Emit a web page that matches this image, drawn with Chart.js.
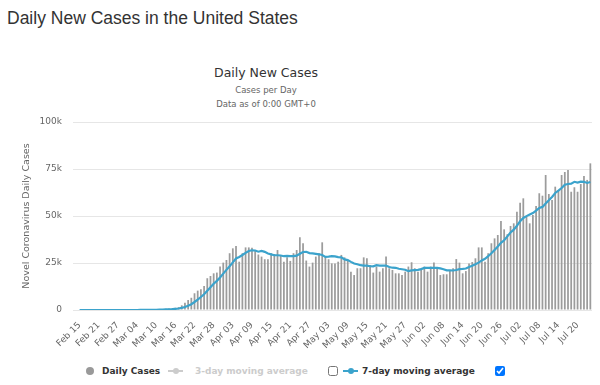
<!DOCTYPE html>
<html>
<head>
<meta charset="utf-8">
<title>Daily New Cases in the United States</title>
<script src="https://cdn.jsdelivr.net/npm/chart.js@4/dist/chart.umd.min.js"></script>
<style>
  body { margin: 0; background: #fff; width: 600px; height: 385px; position: relative; overflow: hidden; }
  .abs { position: absolute; white-space: nowrap; }
  #heading { left: 7px; top: 10px; font: 17.5px/17.5px "Liberation Sans", Arial, sans-serif; color: #333; }
  .ctitle { left: 0; width: 532px; text-align: center; font-family: "DejaVu Sans", sans-serif; }
  #title { top: 66.7px; font-size: 12.5px; line-height: 12.5px; color: #333; }
  .sub { font-size: 8.5px; line-height: 8.5px; color: #666; }
  #chart { position: absolute; left: 0; top: 0; }
  .leg { font: bold 9px/9px "DejaVu Sans", sans-serif; top: 367px; }
  .dot { position: absolute; border-radius: 50%; }
  .bar { position: absolute; height: 2px; }
  .box { position: absolute; width: 10px; height: 10px; margin: 0; top: 366px; }
</style>
</head>
<body>
<div id="heading" class="abs">Daily New Cases in the United States</div>
<div id="title" class="abs ctitle">Daily New Cases</div>
<div class="abs ctitle sub" style="top:86.3px">Cases per Day</div>
<div class="abs ctitle sub" style="top:100.1px">Data as of 0:00 GMT+0</div>

<canvas id="chart" width="600" height="350"></canvas>

<!-- legend, highcharts style with the checkboxes -->
<div class="dot" style="left:86px;top:367px;width:8px;height:8px;background:#999"></div>
<div class="abs leg" style="left:102px;color:#333">Daily Cases</div>
<div class="bar" style="left:168px;top:370px;width:15px;background:#ccc"></div>
<div class="dot" style="left:173px;top:368px;width:6px;height:6px;background:#ccc"></div>
<div class="abs leg" style="left:195px;color:#ccc">3-day moving average</div>
<input type="checkbox" class="box" style="left:328px">
<div class="bar" style="left:343px;top:370px;width:15px;background:#3ba3cc"></div>
<div class="dot" style="left:348px;top:368px;width:6px;height:6px;background:#3ba3cc"></div>
<div class="abs leg" style="left:362px;color:#333">7-day moving average</div>
<input type="checkbox" class="box" style="left:495px" checked>

<script>
// one label per day, Feb 15 - Jul 24 2020
const dates = [
  "Feb 15","Feb 16","Feb 17","Feb 18","Feb 19","Feb 20","Feb 21","Feb 22","Feb 23","Feb 24","Feb 25","Feb 26","Feb 27","Feb 28","Feb 29",
  "Mar 01","Mar 02","Mar 03","Mar 04","Mar 05","Mar 06","Mar 07","Mar 08","Mar 09","Mar 10","Mar 11","Mar 12","Mar 13","Mar 14","Mar 15","Mar 16",
  "Mar 17","Mar 18","Mar 19","Mar 20","Mar 21","Mar 22","Mar 23","Mar 24","Mar 25","Mar 26","Mar 27","Mar 28","Mar 29","Mar 30","Mar 31",
  "Apr 01","Apr 02","Apr 03","Apr 04","Apr 05","Apr 06","Apr 07","Apr 08","Apr 09","Apr 10","Apr 11","Apr 12","Apr 13","Apr 14","Apr 15",
  "Apr 16","Apr 17","Apr 18","Apr 19","Apr 20","Apr 21","Apr 22","Apr 23","Apr 24","Apr 25","Apr 26","Apr 27","Apr 28","Apr 29","Apr 30",
  "May 01","May 02","May 03","May 04","May 05","May 06","May 07","May 08","May 09","May 10","May 11","May 12","May 13","May 14","May 15","May 16",
  "May 17","May 18","May 19","May 20","May 21","May 22","May 23","May 24","May 25","May 26","May 27","May 28","May 29","May 30","May 31",
  "Jun 01","Jun 02","Jun 03","Jun 04","Jun 05","Jun 06","Jun 07","Jun 08","Jun 09","Jun 10","Jun 11","Jun 12","Jun 13","Jun 14","Jun 15",
  "Jun 16","Jun 17","Jun 18","Jun 19","Jun 20","Jun 21","Jun 22","Jun 23","Jun 24","Jun 25","Jun 26","Jun 27","Jun 28","Jun 29","Jun 30",
  "Jul 01","Jul 02","Jul 03","Jul 04","Jul 05","Jul 06","Jul 07","Jul 08","Jul 09","Jul 10","Jul 11","Jul 12",
  "Jul 13","Jul 14","Jul 15","Jul 16","Jul 17","Jul 18","Jul 19","Jul 20","Jul 21","Jul 22","Jul 23","Jul 24"
];

const dailyCases = [
  0,0,0,0,0,0,1,0,0,0,0,0,0,1,7,
  8,20,22,33,77,53,166,116,75,188,365,439,633,759,800,1200,
  1500,2500,3900,5300,6500,8900,10300,11000,12800,16900,18100,19500,19900,23100,25200,
  26600,30200,32800,34000,25700,30200,33300,33300,33100,31900,29500,28400,27000,27000,30200,
  29800,31900,28700,25700,28000,26100,30200,31900,38700,35500,26300,23100,25200,28400,30200,
  36000,28700,27000,24800,24800,25700,29300,28000,26100,20400,18600,22200,22200,28000,27500,23900,
  19900,23100,20400,22200,28400,22200,21300,19500,19500,18600,20400,23100,25400,22200,20400,
  22200,23100,20400,23100,25200,22200,18600,19000,19000,20900,22200,27100,25200,19500,20700,
  24800,25500,27500,33300,33300,25700,30200,35500,38100,39900,47300,42900,40300,44700,46100,
  52300,57100,59400,49600,46100,50500,55300,62100,60800,71800,61700,58500,
  65600,63800,71800,73400,74500,62900,65300,62900,67000,71300,69200,78000
];

const movingAvg7 = [
  0,0,0,0,0,0,0,0,0,0,0,0,0,0,1,
  2,5,8,13,24,31,54,70,77,101,149,200,283,368,466,626,
  814,1119,1613,2280,3100,4257,5557,6914,8386,10243,12071,13929,15500,17330,19360,
  21330,23230,25330,27400,28230,29240,30400,31360,31770,31640,31000,31390,30930,30030,29590,
  29110,29110,29000,28610,28760,28630,28630,28930,29900,30870,30960,30260,30130,29870,29630,
  29240,28270,28370,28610,28560,28170,28040,26900,26530,25590,24700,24330,23830,23640,23570,23260,
  23190,23830,23570,23570,23630,22870,22500,22440,21930,21670,21410,20660,21110,21240,21370,
  21760,22400,22400,22400,22370,22370,22110,21660,21070,21140,21010,21290,21710,21840,22090,
  22910,23570,24330,25210,26370,27260,28610,30140,31940,33710,35710,37090,39170,41240,42760,
  44790,47240,48970,49930,50760,51590,52900,54300,54830,56600,58330,60100,
  62260,63470,64860,66660,67040,67210,68190,67800,68260,68190,67590,68090
];

const yTicks = [0, 25000, 50000, 75000, 100000];
const tickFont = { family: "DejaVu Sans", size: 9 };

new Chart(document.getElementById("chart"), {
  type: "bar",
  data: {
    labels: dates,
    datasets: [
      {
        type: "line",
        label: "7-day moving average",
        data: movingAvg7,
        borderColor: "#3ba3cc",
        borderWidth: 2.2,
        pointRadius: 0,
        fill: false,
        order: 1
      },
      {
        label: "Daily Cases",
        data: dailyCases,
        backgroundColor: "#9c9c9c",
        barPercentage: 0.55,
        categoryPercentage: 1,
        order: 2
      }
    ]
  },
  options: {
    responsive: false,
    animation: false,
    devicePixelRatio: 1,
    layout: { padding: { top: 122, left: 0, right: 6, bottom: 0 } },
    plugins: { legend: { display: false }, tooltip: { enabled: false } },
    scales: {
      x: {
        offset: true,
        grid: { display: false },
        border: { display: false },
        ticks: {
          autoSkip: false,
          maxRotation: 45,
          minRotation: 45,
          padding: 2,
          color: "#666",
          font: tickFont,
          callback: function (val, i) {
            return i % 6 === 0 ? this.getLabelForValue(val) : "";
          }
        },
        afterFit: function (s) { s.height = 40; }
      },
      y: {
        min: yTicks[0],
        max: yTicks[yTicks.length - 1],
        border: { display: false },
        grid: { color: "#e6e6e6", tickColor: "#e6e6e6", tickLength: 5 },
        afterBuildTicks: function (s) { s.ticks = yTicks.map(v => ({ value: v })); },
        ticks: {
          padding: 11,
          color: "#666",
          font: tickFont,
          callback: v => v === 0 ? "0" : (v / 1000) + "k"
        },
        title: {
          display: true,
          text: "Novel Coronavirus Daily Cases",
          color: "#666",
          font: { family: "DejaVu Sans", size: 9.5 },
          padding: { top: 21, bottom: 0 }
        },
        afterFit: function (s) { s.width = 78; }
      }
    }
  }
});
</script>
</body>
</html>
